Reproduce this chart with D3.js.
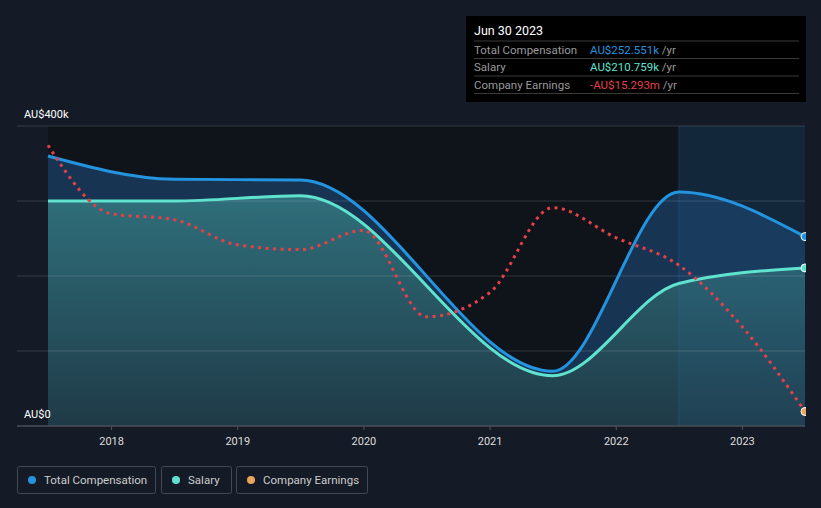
<!DOCTYPE html>
<html>
<head>
<meta charset="utf-8">
<script src="https://cdn.jsdelivr.net/npm/d3@7"></script>
<style>
  body { margin: 0; background: #151b26; }
  svg { display: block; font-family: Roboto, "Open Sans", sans-serif; }
</style>
</head>
<body>
<svg id="chart" width="821" height="508"></svg>
<script>
// yearly dates (Jun 30), values in AU$k
const compDates = [2017.5, 2018.5, 2019.5, 2021.5, 2022.5, 2023.5]
const totalComp = [360, 329, 328, 73, 312, 252.551]
const salary = [300, 300, 307, 67, 190, 210.759]

// company earnings, AU$m
const earnDates = [2017.5, 2018, 2018.5, 2019, 2019.5, 2020, 2020.5, 2021, 2021.5, 2022, 2022.5, 2023, 2023.5]
const earnings = [6.9, 1.2, 0.7, -1.4, -1.8, -0.2, -7.4, -5.4, 1.7, -0.8, -3.1, -8.2, -15.293]

const yTicks = [0, 100, 200, 300, 400]
const yearTicks = [2018, 2019, 2020, 2021, 2022, 2023]

const svg = d3.select('#chart')

const x = d3.scaleLinear().domain([2017.5, 2023.5]).range([48, 805])
const y = d3.scaleLinear().domain([0, 400]).range([426, 126])
const yE = d3.scaleLinear().domain([-16.5, 8.5]).range([426, 126])

const defs = svg.append('defs')
const grad = defs.append('linearGradient')
  .attr('id', 'salGrad').attr('x1', 0).attr('y1', 0).attr('x2', 0).attr('y2', 1)
grad.append('stop').attr('offset', '0%').attr('stop-color', '#2f6f7b')
grad.append('stop').attr('offset', '100%').attr('stop-color', '#1f3a47')

// plot background
svg.append('rect')
  .attr('x', x(2017.5)).attr('y', y(400))
  .attr('width', x(2023.5) - x(2017.5)).attr('height', y(0) - y(400))
  .attr('fill', '#0f131a')
svg.append('rect')
  .attr('x', x(2022.5)).attr('y', y(400))
  .attr('width', x(2023.5) - x(2022.5)).attr('height', y(0) - y(400))
  .attr('fill', '#111e2b')

const compData = compDates.map((d, i) => ({date: d, total: totalComp[i], salary: salary[i]}))
const earnData = earnDates.map((d, i) => ({date: d, value: earnings[i]}))

const areaTotal = d3.area().curve(d3.curveMonotoneX)
  .x(d => x(d.date)).y0(y(0)).y1(d => y(d.total))
const areaSalary = d3.area().curve(d3.curveMonotoneX)
  .x(d => x(d.date)).y0(y(0)).y1(d => y(d.salary))

svg.append('path').datum(compData).attr('d', areaTotal).attr('fill', '#173453')
svg.append('path').datum(compData).attr('d', areaSalary).attr('fill', 'url(#salGrad)')

// highlight tint over last year
svg.append('rect')
  .attr('x', x(2022.5)).attr('y', y(400))
  .attr('width', x(2023.5) - x(2022.5)).attr('height', y(0) - y(400))
  .attr('fill', 'rgba(40,130,210,0.09)')
svg.append('line')
  .attr('x1', x(2022.5)).attr('x2', x(2022.5)).attr('y1', y(400)).attr('y2', y(0))
  .attr('stroke', 'rgba(60,120,170,0.25)')

// grid lines
svg.append('g').selectAll('line')
  .data(yTicks.slice(1))
  .enter()
  .append('line')
  .attr('x1', 17).attr('x2', 805)
  .attr('y1', d => y(d)).attr('y2', d => y(d))
  .attr('stroke', 'rgba(255,255,255,0.14)')

// y labels
svg.append('text').attr('x', 24).attr('y', y(400) - 8)
  .attr('fill', '#fff').attr('font-size', 11).text('AU$400k')
svg.append('text').attr('x', 24).attr('y', y(0) - 8)
  .attr('fill', '#fff').attr('font-size', 11).text('AU$0')

// x axis
const xAxis = svg.append('g')
  .attr('transform', `translate(0, ${y(0)})`)
  .call(d3.axisBottom(x).tickValues(yearTicks).tickFormat(d3.format('d')).tickSize(4).tickPadding(7))
xAxis.select('.domain').remove()
xAxis.selectAll('line').attr('stroke', '#555')
xAxis.selectAll('text').attr('fill', '#ddd').attr('font-size', 11).attr('font-family', 'Roboto, sans-serif')
svg.append('line').attr('x1', 17).attr('x2', 805).attr('y1', y(0)).attr('y2', y(0))
  .attr('stroke', '#4a4f58').attr('stroke-width', 1.5)

const lineTotal = d3.line().curve(d3.curveMonotoneX).x(d => x(d.date)).y(d => y(d.total))
const lineSalary = d3.line().curve(d3.curveMonotoneX).x(d => x(d.date)).y(d => y(d.salary))
const lineEarn = d3.line().curve(d3.curveMonotoneX).x(d => x(d.date)).y(d => yE(d.value))

svg.append('path').datum(compData).attr('d', lineTotal)
  .attr('fill', 'none').attr('stroke', '#2394df').attr('stroke-width', 3)
svg.append('path').datum(compData).attr('d', lineSalary)
  .attr('fill', 'none').attr('stroke', '#5fe3cf').attr('stroke-width', 3)
svg.append('path').datum(earnData).attr('d', lineEarn)
  .attr('fill', 'none').attr('stroke', '#e5404a').attr('stroke-width', 3)
  .attr('stroke-dasharray', '3 4.5')

// end markers
const last = compData[compData.length - 1]
const lastE = earnData[earnData.length - 1]
svg.append('circle').attr('cx', x(last.date)).attr('cy', y(last.total)).attr('r', 4)
  .attr('fill', '#2394df').attr('stroke', '#fff').attr('stroke-width', 1)
svg.append('circle').attr('cx', x(last.date)).attr('cy', y(last.salary)).attr('r', 4)
  .attr('fill', '#5fe3cf').attr('stroke', '#fff').attr('stroke-width', 1)
svg.append('circle').attr('cx', x(lastE.date)).attr('cy', yE(lastE.value)).attr('r', 4)
  .attr('fill', '#e9a55b').attr('stroke', '#fff').attr('stroke-width', 1)

// mask outside plot on right
svg.append('rect').attr('x', 806).attr('y', 100).attr('width', 15).attr('height', 330).attr('fill', '#151b26')

// tooltip
const tip = svg.append('g').attr('transform', 'translate(466, 16)')
tip.append('rect').attr('width', 340).attr('height', 86).attr('fill', '#000')
tip.append('text').attr('x', 8).attr('y', 19).attr('fill', '#fff').attr('font-size', 12.5).text('Jun 30 2023')
const rows = [
  {label: 'Total Compensation', value: 'AU$252.551k', color: '#2394df'},
  {label: 'Salary', value: 'AU$210.759k', color: '#5fe3cf'},
  {label: 'Company Earnings', value: '-AU$15.293m', color: '#e5404a'}
]
rows.forEach((r, i) => {
  const yy = 25 + i * 17.5
  tip.append('line').attr('x1', 8).attr('x2', 333).attr('y1', yy).attr('y2', yy).attr('stroke', '#3a3a3a')
  const t = tip.append('text').attr('x', 8).attr('y', yy + 12.5).attr('font-size', 11.5)
  t.append('tspan').attr('fill', '#999').text(r.label)
  const v = tip.append('text').attr('x', 124).attr('y', yy + 12.5).attr('font-size', 11.5)
  v.append('tspan').attr('fill', r.color).text(r.value)
  v.append('tspan').attr('fill', '#999').text(' /yr')
})
tip.append('line').attr('x1', 8).attr('x2', 333).attr('y1', 77.5).attr('y2', 77.5).attr('stroke', '#3a3a3a')

// legend
const legend = [
  {name: 'Total Compensation', color: '#2394df', x: 17, w: 138},
  {name: 'Salary', color: '#5fe3cf', x: 161, w: 70},
  {name: 'Company Earnings', color: '#e9a55b', x: 236, w: 131}
]
const lg = svg.append('g').selectAll('g').data(legend).enter().append('g')
  .attr('transform', d => `translate(${d.x}, 466)`)
lg.append('rect').attr('x', 0.5).attr('y', 0.5).attr('width', d => d.w).attr('height', 27).attr('rx', 2)
  .attr('fill', 'none').attr('stroke', '#444a55')
lg.append('circle').attr('cx', 15).attr('cy', 14).attr('r', 4).attr('fill', d => d.color)
lg.append('text').attr('x', 27).attr('y', 18).attr('font-size', 11.5).attr('fill', '#ccc').text(d => d.name)
</script>
</body>
</html>
